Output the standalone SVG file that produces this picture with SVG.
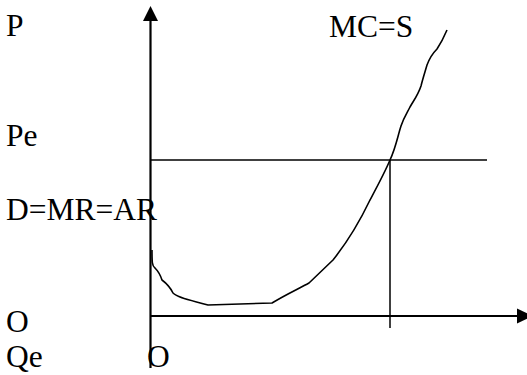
<svg xmlns="http://www.w3.org/2000/svg" width="527" height="375" viewBox="0 0 527 375">
<style>
.t{font-family:'Liberation Serif',serif;font-size:31.5px;fill:#000}
.ax{stroke:#000;stroke-width:2.2;fill:none}
.ln{stroke:#000;stroke-width:1.5;fill:none}
.cv{stroke:#000;stroke-width:1.6;fill:none;stroke-linejoin:round}
</style>
<rect width="527" height="375" fill="#fff"/>
<g id="connectors">
<line class="ax" x1="150.5" y1="20" x2="150.5" y2="368"/>
<polygon points="150.5,6 143,21 158,21" fill="#000"/>
<line class="ax" x1="150" y1="316" x2="518" y2="316"/>
<polygon points="533,316 517,308.5 517,323.5" fill="#000"/>
<line class="ln" x1="151" y1="160" x2="487" y2="160"/>
<line class="ln" x1="390" y1="160" x2="390" y2="328"/>
</g>
<g id="mc-curve">
<path class="cv" d="M152,250 C152,262 152,266 155,268 C158,271 160,274 162,280 C166,283 170,287 173,293 C178,298 190,300 208,305 L272,303 C285,295 298,289 309,283 L333,260 C345,245 358,225 370,200 C378,185 385,172 390,160 C396,147 398,135 401,126 C404,117 407,113 410,107 C414,100 418,95 421,86 C423,78 425,72 427,65 C430,57 433,53 437,49 C441,43 444,37 447,30"/>
</g>
<g id="label-P"><text class="t" x="6" y="36">P</text></g>
<g id="label-MCS"><text class="t" x="329" y="37">MC=S</text></g>
<g id="label-Pe"><text class="t" x="6" y="146">Pe</text></g>
<g id="label-D"><text class="t" x="6" y="220">D=MR=AR</text></g>
<g id="label-O-left"><text class="t" x="6" y="332">O</text></g>
<g id="label-Qe"><text class="t" x="6" y="367">Qe</text></g>
<g id="label-O-origin"><text class="t" x="147" y="367">O</text></g>
</svg>
